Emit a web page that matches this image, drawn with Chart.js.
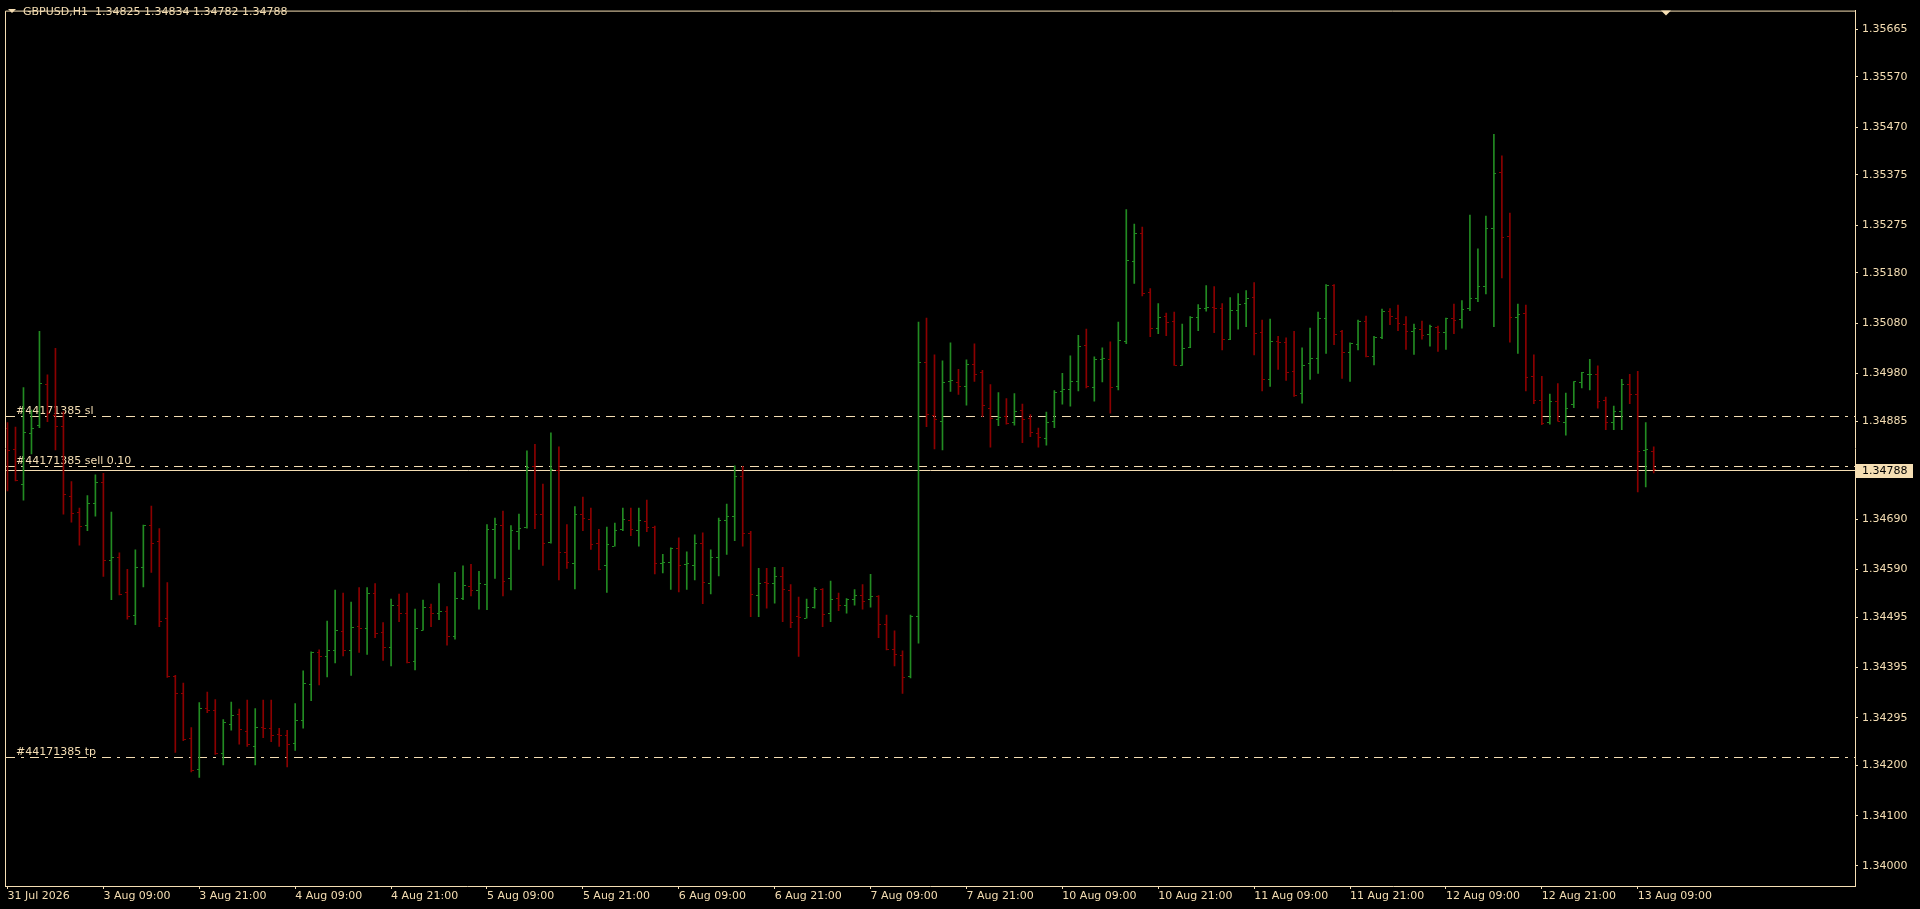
<!DOCTYPE html>
<html><head><meta charset="utf-8">
<script src="https://cdn.jsdelivr.net/npm/chart.js@4.4.1/dist/chart.umd.min.js"></script>
<style>html,body{margin:0;padding:0;background:#000;overflow:hidden}</style>
</head><body>
<canvas id="c" width="1920" height="909"></canvas>
<script>
// ---- data (GBPUSD H1, 31 Jul 2026 21:00 .. 13 Aug 2026 11:00) ----
const symbol = 'GBPUSD,H1';
const opens = [1.34871,1.34829,1.34758,1.34861,1.34877,1.34957,1.34897,1.34875,1.34736,1.34703,
1.34678,1.34721,1.34762,1.34607,1.34613,1.34544,1.34499,1.34593,1.34678,1.34646,
1.34493,1.34377,1.34343,1.34254,1.34191,1.34313,1.34310,1.34223,1.34281,1.34302,
1.34268,1.34238,1.34276,1.34274,1.34262,1.34260,1.34243,1.34290,1.34361,1.34425,
1.34416,1.34428,1.34467,1.34428,1.34476,1.34473,1.34543,1.34464,1.34434,1.34518,
1.34502,1.34406,1.34469,1.34514,1.34503,1.34507,1.34457,1.34532,1.34556,1.34549,
1.34559,1.34669,1.34678,1.34571,1.34666,1.34674,1.34794,1.34699,1.34644,1.34787,
1.34623,1.34601,1.34699,1.34690,1.34641,1.34597,1.34636,1.34670,1.34688,1.34667,
1.34686,1.34674,1.34602,1.34604,1.34631,1.34599,1.34597,1.34641,1.34562,1.34613,
1.34688,1.34696,1.34774,1.34661,1.34539,1.34563,1.34562,1.34575,1.34548,1.34497,
1.34493,1.34515,1.34550,1.34502,1.34532,1.34518,1.34531,1.34539,1.34531,1.34537,
1.34481,1.34430,1.34418,1.34376,1.34496,1.35001,1.34897,1.34885,1.34963,1.34961,
1.34953,1.34997,1.34981,1.34910,1.34888,1.34894,1.34883,1.34906,1.34891,1.34861,
1.34851,1.34885,1.34944,1.34949,1.34963,1.35036,1.34951,1.35007,1.35008,1.34953,
1.35043,1.35203,1.35258,1.35141,1.35069,1.35094,1.35083,1.34996,1.35032,1.35091,
1.35110,1.35111,1.35109,1.35047,1.35105,1.35119,1.35131,1.35062,1.34968,1.35044,
1.35041,1.34984,1.34940,1.34999,1.35010,1.35089,1.35155,1.35064,1.35022,1.35038,
1.35083,1.35014,1.35051,1.35104,1.35090,1.35078,1.35064,1.35068,1.35058,1.35072,
1.35061,1.35090,1.35088,1.35109,1.35129,1.35153,1.35269,1.35379,1.35253,1.35092,
1.35099,1.34973,1.34926,1.34883,1.34924,1.34883,1.34919,1.34962,1.34977,1.34977,
1.34926,1.34883,1.34905,1.34958,1.34939,1.34826,1.34825];
const highs = [1.34882,1.34873,1.34952,1.34907,1.35064,1.34977,1.35030,1.34904,1.34765,1.34712,
1.34737,1.34778,1.34781,1.34704,1.34623,1.34590,1.34629,1.34678,1.34716,1.34671,
1.34564,1.34379,1.34364,1.34275,1.34325,1.34346,1.34331,1.34291,1.34326,1.34312,
1.34330,1.34313,1.34330,1.34330,1.34274,1.34270,1.34323,1.34388,1.34426,1.34430,
1.34487,1.34549,1.34543,1.34525,1.34554,1.34554,1.34562,1.34484,1.34531,1.34541,
1.34543,1.34511,1.34529,1.34521,1.34562,1.34516,1.34584,1.34597,1.34600,1.34586,
1.34679,1.34692,1.34706,1.34677,1.34700,1.34826,1.34839,1.34760,1.34862,1.34834,
1.34679,1.34715,1.34734,1.34712,1.34670,1.34674,1.34682,1.34712,1.34712,1.34712,
1.34728,1.34676,1.34620,1.34633,1.34653,1.34625,1.34659,1.34663,1.34629,1.34692,
1.34720,1.34796,1.34795,1.34666,1.34592,1.34592,1.34594,1.34594,1.34560,1.34535,
1.34531,1.34554,1.34552,1.34567,1.34543,1.34532,1.34550,1.34560,1.34580,1.34538,
1.34499,1.34468,1.34428,1.34499,1.35082,1.35090,1.35017,1.35005,1.35041,1.34988,
1.35007,1.35039,1.34986,1.34958,1.34942,1.34930,1.34940,1.34919,1.34898,1.34871,
1.34903,1.34946,1.34980,1.35015,1.35056,1.35068,1.35013,1.35031,1.35043,1.35082,
1.35306,1.35277,1.35271,1.35149,1.35119,1.35100,1.35102,1.35078,1.35093,1.35117,
1.35155,1.35153,1.35119,1.35131,1.35139,1.35145,1.35161,1.35086,1.35088,1.35054,
1.35051,1.35064,1.35031,1.35070,1.35102,1.35157,1.35157,1.35066,1.35041,1.35086,
1.35094,1.35054,1.35108,1.35109,1.35116,1.35093,1.35078,1.35084,1.35076,1.35074,
1.35090,1.35118,1.35125,1.35295,1.35228,1.35293,1.35456,1.35413,1.35299,1.35118,
1.35116,1.35017,1.34974,1.34939,1.34960,1.34941,1.34964,1.34982,1.35008,1.34995,
1.34933,1.34915,1.34968,1.34978,1.34984,1.34882,1.34834];
const lows = [1.34746,1.34766,1.34728,1.34820,1.34872,1.34884,1.34828,1.34700,1.34684,1.34638,
1.34667,1.34696,1.34576,1.34530,1.34539,1.34491,1.34480,1.34555,1.34584,1.34476,
1.34375,1.34226,1.34249,1.34187,1.34176,1.34305,1.34222,1.34201,1.34270,1.34242,
1.34238,1.34201,1.34255,1.34247,1.34238,1.34197,1.34230,1.34274,1.34329,1.34360,
1.34376,1.34404,1.34418,1.34379,1.34425,1.34421,1.34454,1.34409,1.34398,1.34486,
1.34404,1.34390,1.34469,1.34476,1.34490,1.34439,1.34451,1.34530,1.34537,1.34511,
1.34510,1.34572,1.34537,1.34549,1.34630,1.34672,1.34671,1.34598,1.34642,1.34569,
1.34592,1.34551,1.34667,1.34630,1.34589,1.34544,1.34636,1.34667,1.34657,1.34636,
1.34665,1.34581,1.34583,1.34550,1.34545,1.34550,1.34569,1.34522,1.34541,1.34577,
1.34620,1.34647,1.34636,1.34496,1.34496,1.34513,1.34523,1.34486,1.34474,1.34417,
1.34493,1.34513,1.34476,1.34486,1.34508,1.34503,1.34519,1.34511,1.34515,1.34454,
1.34430,1.34398,1.34343,1.34374,1.34443,1.34874,1.34830,1.34828,1.34944,1.34938,
1.34917,1.34964,1.34894,1.34833,1.34876,1.34879,1.34877,1.34842,1.34854,1.34833,
1.34837,1.34872,1.34919,1.34915,1.34945,1.34951,1.34925,1.34963,1.34901,1.34947,
1.35039,1.35159,1.35134,1.35053,1.35059,1.35055,1.34996,1.34996,1.35031,1.35065,
1.35104,1.35061,1.35027,1.35047,1.35068,1.35073,1.35017,1.34945,1.34954,1.34988,
1.34966,1.34934,1.34921,1.34968,1.34980,1.35020,1.35037,1.34970,1.34964,1.35027,
1.35013,1.34997,1.35049,1.35077,1.35065,1.35028,1.35018,1.35048,1.35034,1.35024,
1.35028,1.35059,1.35070,1.35105,1.35123,1.35138,1.35073,1.35170,1.35042,1.35020,
1.34945,1.34920,1.34878,1.34879,1.34885,1.34857,1.34912,1.34951,1.34947,1.34911,
1.34868,1.34868,1.34868,1.34920,1.34744,1.34754,1.34782];
const closes = [1.34827,1.34767,1.34863,1.34871,1.34959,1.34900,1.34874,1.34739,1.34701,1.34676,
1.34721,1.34762,1.34607,1.34613,1.34541,1.34497,1.34593,1.34677,1.34642,1.34487,
1.34377,1.34343,1.34252,1.34190,1.34314,1.34310,1.34223,1.34285,1.34300,1.34272,
1.34241,1.34276,1.34274,1.34260,1.34260,1.34242,1.34289,1.34363,1.34425,1.34416,
1.34428,1.34469,1.34428,1.34474,1.34473,1.34543,1.34463,1.34434,1.34518,1.34502,
1.34405,1.34472,1.34514,1.34502,1.34507,1.34457,1.34532,1.34557,1.34549,1.34562,
1.34670,1.34680,1.34566,1.34668,1.34672,1.34792,1.34699,1.34642,1.34789,1.34623,
1.34603,1.34699,1.34692,1.34640,1.34590,1.34640,1.34667,1.34690,1.34669,1.34688,
1.34674,1.34602,1.34604,1.34631,1.34597,1.34601,1.34641,1.34564,1.34613,1.34688,
1.34696,1.34774,1.34661,1.34541,1.34562,1.34561,1.34575,1.34550,1.34485,1.34495,
1.34515,1.34550,1.34500,1.34531,1.34518,1.34531,1.34539,1.34526,1.34537,1.34481,
1.34430,1.34421,1.34374,1.34497,1.35001,1.34898,1.34888,1.34961,1.34965,1.34953,
1.34997,1.34977,1.34916,1.34890,1.34892,1.34881,1.34904,1.34889,1.34863,1.34853,
1.34883,1.34942,1.34949,1.34963,1.35034,1.34953,1.35008,1.35010,1.34951,1.35045,
1.35205,1.35258,1.35140,1.35069,1.35091,1.35081,1.34996,1.35030,1.35092,1.35109,
1.35111,1.35109,1.35048,1.35106,1.35117,1.35129,1.35060,1.34968,1.35044,1.35041,
1.34982,1.34936,1.34995,1.35010,1.35090,1.35154,1.35058,1.35022,1.35040,1.35083,
1.35014,1.35052,1.35104,1.35093,1.35080,1.35064,1.35070,1.35056,1.35073,1.35061,
1.35090,1.35086,1.35107,1.35129,1.35153,1.35269,1.35378,1.35251,1.35092,1.35097,
1.34971,1.34926,1.34881,1.34924,1.34885,1.34911,1.34964,1.34981,1.34978,1.34925,
1.34883,1.34905,1.34958,1.34939,1.34824,1.34828,1.34788];

const xTickIndex = [0,12,24,36,48,60,72,84,96,108,120,132,144,156,168,180,192,204];
const xTickLabels = ['31 Jul 2026','3 Aug 09:00','3 Aug 21:00','4 Aug 09:00','4 Aug 21:00',
  '5 Aug 09:00','5 Aug 21:00','6 Aug 09:00','6 Aug 21:00','7 Aug 09:00','7 Aug 21:00',
  '10 Aug 09:00','10 Aug 21:00','11 Aug 09:00','11 Aug 21:00','12 Aug 09:00','12 Aug 21:00','13 Aug 09:00'];
const yTickValues = [1.35665,1.35570,1.35470,1.35375,1.35275,1.35180,1.35080,1.34980,1.34885,
  1.34690,1.34590,1.34495,1.34395,1.34295,1.34200,1.34100,1.34000];
const orderNames = ['#44171385 sl','#44171385 sell 0.10','#44171385 tp'];
const orderPrices = [1.34895, 1.34796, 1.34217];
const shiftIndex = 207.5; // chart-shift marker position (bar index)

// ---- style ----
const FG = '#F5DEB3';
const UP = '#228B22';
const DOWN = '#8B0000';
const FONT_FAMILY = "'DejaVu Sans', sans-serif";
const FONT = "11px " + FONT_FAMILY;
const X_MIN = -0.3125, X_MAX = 231.1875;
const Y_MIN = 1.33960, Y_MAX = 1.35702;

function tickImg(color, left) {
  const c = document.createElement('canvas');
  c.width = 5; c.height = 1;
  const g = c.getContext('2d');
  g.fillStyle = color;
  g.fillRect(left ? 0 : 3, 0, 2, 1);
  return c;
}
const imgs = { UL: tickImg(UP, true), UR: tickImg(UP, false), DL: tickImg(DOWN, true), DR: tickImg(DOWN, false) };

const isUp = opens.map((o, i) => closes[i] >= o);
const barColors = isUp.map(u => u ? UP : DOWN);

const rangeData = opens.map((o, i) => ({ x: i, y: [lows[i], highs[i]] }));
const openData = opens.map((o, i) => ({ x: i, y: o }));
const closeData = closes.map((c, i) => ({ x: i, y: c }));
const lastClose = closes[closes.length - 1];

const datasets = [
  { type: 'bar', data: rangeData, backgroundColor: barColors, borderWidth: 0, barThickness: 1, grouped: false, order: 0 },
  { type: 'line', data: openData, showLine: false, pointRadius: 1, pointStyle: isUp.map(u => u ? imgs.UL : imgs.DL), order: 1 },
  { type: 'line', data: closeData, showLine: false, pointRadius: 1, pointStyle: isUp.map(u => u ? imgs.UR : imgs.DR), order: 1 },
];

function hline(ctx, a, py, dash) {
  ctx.setLineDash(dash);
  ctx.beginPath();
  ctx.moveTo(a.left + 1, py + 0.5);
  ctx.lineTo(a.right, py + 0.5);
  ctx.stroke();
}

const mt4 = {
  id: 'mt4',
  beforeDraw(chart) {
    const { ctx, width, height } = chart;
    ctx.save(); ctx.fillStyle = '#000'; ctx.fillRect(0, 0, width, height); ctx.restore();
  },
  beforeDatasetsDraw(chart) {
    const { ctx, chartArea: a, scales: { y } } = chart;
    ctx.save();
    ctx.font = FONT; ctx.fillStyle = FG; ctx.strokeStyle = FG; ctx.lineWidth = 1;
    ctx.textAlign = 'left'; ctx.textBaseline = 'alphabetic';
    orderNames.forEach((n, k) => {
      const py = Math.round(y.getPixelForValue(orderPrices[k]));
      ctx.fillText(n, a.left + 11, py - 2);
      hline(ctx, a, py, [9, 6, 3, 6]);
    });
    hline(ctx, a, Math.round(y.getPixelForValue(lastClose)), []);
    ctx.restore();
    ctx.imageSmoothingEnabled = false;
  },
  afterDraw(chart) {
    const { ctx, chartArea: a, scales: { x, y } } = chart;
    ctx.save();
    ctx.strokeStyle = FG; ctx.lineWidth = 1;
    ctx.beginPath();
    ctx.moveTo(a.left + 0.5, a.bottom); ctx.lineTo(a.left + 0.5, a.top + 0.5); ctx.lineTo(a.right, a.top + 0.5);
    ctx.stroke();
    // chart shift marker
    const sx = Math.round(x.getPixelForValue(shiftIndex));
    ctx.fillStyle = FG;
    ctx.beginPath(); ctx.moveTo(sx - 5, a.top); ctx.lineTo(sx + 5, a.top); ctx.lineTo(sx, a.top + 5); ctx.closePath(); ctx.fill();
    // header
    ctx.beginPath(); ctx.moveTo(8, 9); ctx.lineTo(16, 9); ctx.lineTo(12, 13); ctx.closePath(); ctx.fill();
    ctx.font = FONT; ctx.textAlign = 'left'; ctx.textBaseline = 'alphabetic';
    const n = closes.length - 1;
    ctx.fillText(symbol + '  ' + [opens[n], highs[n], lows[n], closes[n]].map(v => v.toFixed(5)).join(' '), 23, 15);
    // current price box
    const py = Math.round(y.getPixelForValue(lastClose));
    ctx.fillStyle = FG;
    ctx.fillRect(a.right + 1, py - 6, 57, 14);
    ctx.fillStyle = '#000';
    ctx.textBaseline = 'middle';
    ctx.fillText(lastClose.toFixed(5), a.right + 7, py + 1);
    ctx.restore();
  }
};

Chart.defaults.font.family = FONT_FAMILY;
Chart.defaults.font.size = 11;
Chart.defaults.color = FG;

new Chart(document.getElementById('c'), {
  type: 'bar',
  data: { datasets },
  plugins: [mt4],
  options: {
    responsive: false, devicePixelRatio: 1, animation: false, events: [],
    layout: { padding: { left: 3, top: 1, right: 0, bottom: 0 } },
    plugins: { legend: { display: false }, tooltip: { enabled: false } },
    scales: {
      x: {
        type: 'linear', position: 'bottom', min: X_MIN, max: X_MAX, offset: false,
        afterFit: s => { s.height = 23; },
        afterBuildTicks: s => { s.ticks = xTickIndex.map(v => ({ value: v })); },
        grid: { offset: false, drawOnChartArea: false, drawTicks: true, tickLength: 3, color: FG },
        border: { display: true, color: FG, width: 1 },
        ticks: { autoSkip: false, maxRotation: 0, minRotation: 0, align: 'start', padding: 1, color: FG,
          font: { size: 11 }, callback: (v, i) => xTickLabels[i] }
      },
      y: {
        type: 'linear', position: 'right', min: Y_MIN, max: Y_MAX,
        afterFit: s => { s.width = 65; },
        afterBuildTicks: s => { s.ticks = yTickValues.map(v => ({ value: v })); },
        grid: { drawOnChartArea: false, drawTicks: true, tickLength: 3, color: FG },
        border: { display: true, color: FG, width: 1 },
        ticks: { autoSkip: false, padding: 4, color: FG, font: { size: 11 }, callback: v => Number(v).toFixed(5) }
      }
    }
  }
});
</script>
</body></html>
